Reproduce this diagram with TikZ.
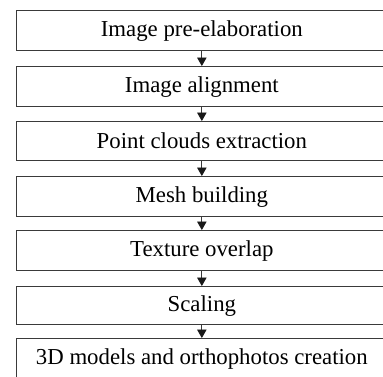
\documentclass[tikz,border=0pt]{standalone}
\usepackage{fontspec}
\setmainfont{Liberation Serif}
\usetikzlibrary{arrows.meta}
\definecolor{edge}{HTML}{3A3A3A}
\tikzset{
  stepbox/.style={draw=edge, line width=1.2pt, minimum width=371.5pt,
    inner sep=0pt, font=\fontsize{22.8}{27}\selectfont, text=black},
  flow/.style={draw=edge, line width=0.8pt,
    -{Triangle[length=8.5pt,width=9.5pt,color=black!90]}}
}
\begin{document}
\begin{tikzpicture}[x=1pt, y=-1pt]
  \useasboundingbox (0,0) rectangle (383,376);
  \begin{scope}
    \clip (0,0) rectangle (383,376);
    % stage boxes: left edge at x=15.5, box height about 40
    \node[stepbox, minimum height=40pt, anchor=north west] (s1) at (15.5,10)  {Image pre-elaboration};
    \node[stepbox, minimum height=40pt, anchor=north west] (s2) at (15.5,66)  {Image alignment};
    \node[stepbox, minimum height=39pt, anchor=north west] (s3) at (15.5,121) {Point clouds extraction};
    \node[stepbox, minimum height=40pt, anchor=north west] (s4) at (15.5,176) {Mesh building};
    \node[stepbox, minimum height=40pt, anchor=north west] (s5) at (15.5,230) {Texture overlap};
    \node[stepbox, minimum height=38pt, anchor=north west] (s6) at (15.5,286) {Scaling};
    \node[stepbox, minimum height=40pt, anchor=north west] (s7) at (15.5,338) {3D models and orthophotos creation};
  \end{scope}
  % connectors between consecutive stages
  \foreach \a/\b in {s1/s2, s2/s3, s3/s4, s4/s5, s5/s6, s6/s7}
    \draw[flow] (\a.south) -- (\b.north);
\end{tikzpicture}
\end{document}
